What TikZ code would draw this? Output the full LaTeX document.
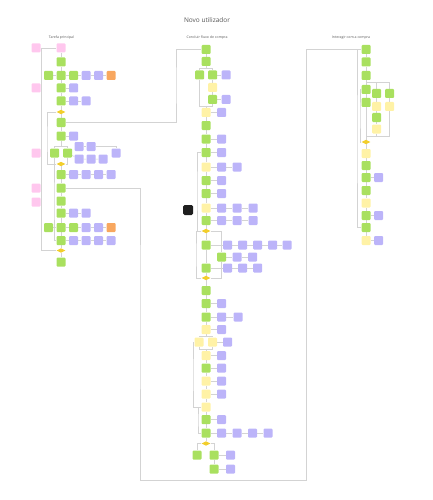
\documentclass[tikz,border=0pt]{standalone}
\usepackage{fontspec}
\setmainfont{Open Sans}
\usetikzlibrary{shapes.geometric,backgrounds}
\definecolor{cg}{HTML}{A9E05F}
\definecolor{cp}{HTML}{BCB4F9}
\definecolor{cy}{HTML}{FFF2A6}
\definecolor{ck}{HTML}{FFC7EE}
\definecolor{co}{HTML}{F8A75F}
\definecolor{cd}{HTML}{F2CE2C}
\definecolor{cl}{HTML}{D3D3D3}
\definecolor{tx}{HTML}{555555}
\begin{document}
\begin{tikzpicture}[x=1pt,y=-1pt,
  sq/.style={minimum size=9pt,inner sep=0pt,rounded corners=1pt},
  gr/.style={sq,fill=cg},
  pu/.style={sq,fill=cp},
  ye/.style={sq,fill=cy},
  pk/.style={sq,fill=ck},
  og/.style={sq,fill=co},
  dia/.style={diamond,fill=cd,inner sep=0pt,minimum width=9pt,minimum height=4.5pt},
  blk/.style={minimum size=10pt,inner sep=0pt,rounded corners=1.5pt,fill=black!88},
  lab/.style={font=\fontsize{3.5}{4}\selectfont,text=tx,inner sep=0pt},
  ln/.style={draw=cl,line width=0.5pt}]
\useasboundingbox (0,0) rectangle (433,500);

% titles
\node[font=\fontsize{6.5}{7}\selectfont,text=tx,inner sep=0pt] (title) at (207,20) {Novo utilizador};
\node[lab] (l1) at (61.5,38) {Tarefa principal};
\node[lab] (l2) at (207,38) {Concluir fluxo de compra};
\node[lab] (l3) at (351,38) {Interagir com a compra};

% ---------- column 1 ----------
\node[pk] (p1) at (36,48) {};
\node[pk] (p2) at (61,48) {};
\node[pk] (p3) at (36,88) {};
\node[pk] (p4) at (36,153) {};
\node[pk] (p5) at (36,188) {};
\node[pk] (p6) at (36,202) {};
\node[gr] (g1) at (61,62) {};
\node[gr] (g2a) at (48.5,75.5) {};
\node[gr] (g2) at (61,75.5) {};
\node[gr] (g2b) at (73.5,75.5) {};
\node[pu] (u2a) at (86,75.5) {};
\node[pu] (u2b) at (98.5,75.5) {};
\node[og] (o2) at (111,75.5) {};
\node[gr] (g3) at (61,88) {};
\node[pu] (u3) at (73.5,88) {};
\node[gr] (g4) at (61,101) {};
\node[pu] (u4a) at (73.5,101) {};
\node[pu] (u4b) at (86,101) {};
\node[dia] (d1) at (61,112) {};
\node[gr] (g5) at (61,122.5) {};
\node[gr] (g6) at (61,136) {};
\node[pu] (u6) at (73.5,136) {};
\node[pu] (u7a) at (79,146.5) {};
\node[pu] (u7b) at (91,146.5) {};
\node[gr] (g7a) at (54.5,153) {};
\node[gr] (g7b) at (67.5,153) {};
\node[pu] (u7c) at (116,153) {};
\node[pu] (u8a) at (79,159) {};
\node[pu] (u8b) at (91,159) {};
\node[pu] (u8c) at (103,159) {};
\node[dia] (d2) at (61,164) {};
\node[gr] (g9) at (61,174.5) {};
\node[pu] (u9a) at (73.5,174.5) {};
\node[pu] (u9b) at (86,174.5) {};
\node[pu] (u9c) at (98.5,174.5) {};
\node[pu] (u9d) at (111,174.5) {};
\node[gr] (g10) at (61,188) {};
\node[gr] (g11) at (61,201) {};
\node[gr] (g12) at (61,213) {};
\node[pu] (u12a) at (73.5,213) {};
\node[pu] (u12b) at (86,213) {};
\node[gr] (g13a) at (48.5,227.5) {};
\node[gr] (g13) at (61,227.5) {};
\node[gr] (g13b) at (73.5,227.5) {};
\node[pu] (u13a) at (86,227.5) {};
\node[pu] (u13b) at (98.5,227.5) {};
\node[og] (o13) at (111,227.5) {};
\node[gr] (g14) at (61,240.5) {};
\node[pu] (u14a) at (73.5,240.5) {};
\node[pu] (u14b) at (86,240.5) {};
\node[pu] (u14c) at (98.5,240.5) {};
\node[pu] (u14d) at (111,240.5) {};
\node[dia] (d3) at (61,250.5) {};
\node[gr] (g15) at (61,262) {};

% ---------- column 2 ----------
\node[gr] (b1) at (206,49.5) {};
\node[gr] (b2) at (206,61.5) {};
\node[gr] (b3a) at (199.5,75) {};
\node[gr] (b3b) at (212.5,75) {};
\node[pu] (v3) at (226,75) {};
\node[ye] (b4) at (212.5,87.5) {};
\node[gr] (b5) at (212.5,99.5) {};
\node[pu] (v5) at (226,99.5) {};
\node[ye] (b6) at (206,112.5) {};
\node[pu] (v6) at (221.5,112.5) {};
\node[gr] (b7) at (206,125.5) {};
\node[gr] (b8) at (206,139) {};
\node[pu] (v8) at (221.5,139) {};
\node[gr] (b9) at (206,152.5) {};
\node[pu] (v9) at (221.5,152.5) {};
\node[ye] (b10) at (206,167) {};
\node[pu] (v10a) at (221.5,167) {};
\node[pu] (v10b) at (237,167) {};
\node[gr] (b11) at (206,180.5) {};
\node[pu] (v11) at (221.5,180.5) {};
\node[gr] (b12) at (206,193.5) {};
\node[pu] (v12) at (221.5,193.5) {};
\node[ye] (b13) at (206,208) {};
\node[pu] (v13a) at (221.5,208) {};
\node[pu] (v13b) at (237,208) {};
\node[pu] (v13c) at (253,208) {};
\node[gr] (b14) at (206,220.5) {};
\node[pu] (v14a) at (221.5,220.5) {};
\node[pu] (v14b) at (237,220.5) {};
\node[pu] (v14c) at (253,220.5) {};
\node[blk] (K) at (188,210) {};
\node[dia] (e1) at (206,231) {};
\node[gr] (b15) at (206,245) {};
\node[pu] (v15a) at (227.5,245) {};
\node[pu] (v15b) at (242.5,245) {};
\node[pu] (v15c) at (257.5,245) {};
\node[pu] (v15d) at (272.5,245) {};
\node[pu] (v15e) at (287,245) {};
\node[gr] (b16) at (221.5,257) {};
\node[pu] (v16a) at (237,257) {};
\node[pu] (v16b) at (252.5,257) {};
\node[gr] (b17) at (206,268) {};
\node[pu] (v17a) at (227.5,268) {};
\node[pu] (v17b) at (242.5,268) {};
\node[pu] (v17c) at (257.5,268) {};
\node[dia] (e2) at (206,278) {};
\node[gr] (b18) at (206,290.5) {};
\node[gr] (b19) at (206,303.5) {};
\node[pu] (v19) at (221.5,303.5) {};
\node[gr] (b20) at (206,317) {};
\node[pu] (v20a) at (221.5,317) {};
\node[pu] (v20b) at (238,317) {};
\node[ye] (b21) at (206,329.5) {};
\node[pu] (v21) at (221.5,329.5) {};
\node[ye] (b22a) at (199,342) {};
\node[ye] (b22b) at (212.5,342) {};
\node[pu] (v22) at (227.5,342) {};
\node[ye] (b23) at (206,355.5) {};
\node[pu] (v23) at (221.5,355.5) {};
\node[gr] (b24) at (206,368) {};
\node[pu] (v24) at (221.5,368) {};
\node[ye] (b25) at (206,381) {};
\node[pu] (v25) at (221.5,381) {};
\node[ye] (b26) at (206,394) {};
\node[pu] (v26) at (221.5,394) {};
\node[ye] (b27) at (206,407) {};
\node[gr] (b28) at (206,419.5) {};
\node[pu] (v28) at (221.5,419.5) {};
\node[gr] (b29) at (206,433) {};
\node[pu] (v29a) at (221.5,433) {};
\node[pu] (v29b) at (237,433) {};
\node[pu] (v29c) at (252.5,433) {};
\node[pu] (v29d) at (268,433) {};
\node[dia] (e3) at (206,443.5) {};
\node[gr] (b30a) at (197,455) {};
\node[gr] (b30b) at (214,455) {};
\node[pu] (v30) at (230.5,455) {};
\node[gr] (b31) at (214,469) {};
\node[pu] (v31) at (230.5,469) {};

% ---------- column 3 ----------
\node[gr] (f1) at (366,49.5) {};
\node[gr] (f2) at (366,62) {};
\node[gr] (f3) at (366,75.5) {};
\node[gr] (f4) at (366,89.5) {};
\node[gr] (f4b) at (376.5,93.5) {};
\node[gr] (f4c) at (389.5,93.5) {};
\node[gr] (f5) at (366,102.5) {};
\node[ye] (f5b) at (376.5,106.5) {};
\node[ye] (f5c) at (389.5,106.5) {};
\node[gr] (f6b) at (376.5,117.5) {};
\node[ye] (f7b) at (376.5,129) {};
\node[dia] (h1) at (366,142) {};
\node[ye] (f8) at (366,153.5) {};
\node[gr] (f9) at (366,165.5) {};
\node[gr] (f10) at (366,177.5) {};
\node[pu] (w10) at (378.5,177.5) {};
\node[gr] (f11) at (366,190.5) {};
\node[ye] (f12) at (366,203) {};
\node[gr] (f13) at (366,215.5) {};
\node[pu] (w13) at (378.5,215.5) {};
\node[gr] (f14) at (366,227.5) {};
\node[ye] (f15) at (366,240.5) {};
\node[pu] (w15) at (378.5,240.5) {};

% ---------- connectors ----------
\coordinate (k1) at (61,146);
\coordinate (k2) at (41,48);
\coordinate (k3) at (47,140);
\coordinate (k4) at (54,200);
\coordinate (k5) at (176,85);
\coordinate (k6) at (140,300);
\coordinate (k7) at (306,480);
\coordinate (j0) at (206,68.5);
\coordinate (j1) at (206,106);
\coordinate (k8) at (197,190);
\coordinate (k9) at (196,255);
\coordinate (j2) at (206,336);
\coordinate (j3) at (206,349);
\coordinate (k11) at (193,375);
\coordinate (k12) at (198,420);
\coordinate (k13) at (366,82);
\coordinate (k14) at (366,136);
\coordinate (k15) at (357,140);
\coordinate (k16) at (360,115);
\begin{pgfonlayer}{background}
% column 1
\draw[ln] (p1) -- (p2) -- (g1) -- (g2) -- (g3) -- (g4) -- (d1) -- (g5) -- (g6) -- (k1);
\draw[ln] (g2a) -- (g2) -- (g2b) -- (u2a) -- (u2b) -- (o2);
\draw[ln] (g3) -- (u3);
\draw[ln] (g4) -- (u4a) -- (u4b);
\draw[ln] (g6) -- (u6);
\draw[ln] (k1) -| (g7a);
\draw[ln] (k1) -| (g7b);
\draw[ln] (g7a) |- (d2);
\draw[ln] (g7b) |- (d2);
\draw[ln] (u7a) -- (u7b) -| (u7c);
\draw[ln] (g7b) -- (u8a) -- (u8b) -- (u8c);
\draw[ln] (d2) -- (g9) -- (g10) -- (g11) -- (g12) -- (g13) -- (g14) -- (d3) -- (g15);
\draw[ln] (g9) -- (u9a) -- (u9b) -- (u9c) -- (u9d);
\draw[ln] (g12) -- (u12a) -- (u12b);
\draw[ln] (g13a) -- (g13) -- (g13b) -- (u13a) -- (u13b) -- (o13);
\draw[ln] (g14) -- (u14a) -- (u14b) -- (u14c) -- (u14d);
\draw[ln] (k2) |- (d3);
\draw[ln] (d1) -| (k3) |- (d2);
\draw[ln] (d2) -| (k4) |- (g14);
\draw[ln] (g5) -| (k5) |- (b1);
\draw[ln] (g10) -| (k6) |- (k7) |- (f1);
% column 2
\draw[ln] (b1) -- (b2) -- (j0);
\draw[ln] (j0) -| (b3a);
\draw[ln] (j0) -| (b3b);
\draw[ln] (b3b) -- (b4) -- (b5);
\draw[ln] (b3b) -- (v3);
\draw[ln] (b5) -- (v5);
\draw[ln] (b3a) |- (j1);
\draw[ln] (b5) |- (j1);
\draw[ln] (j1) -- (b6) -- (b7) -- (b8) -- (b9) -- (b10) -- (b11) -- (b12) -- (b13) -- (b14) -- (e1);
\draw[ln] (b6) -- (v6);
\draw[ln] (b8) -- (v8);
\draw[ln] (b9) -- (v9);
\draw[ln] (b10) -- (v10a) -- (v10b);
\draw[ln] (b11) -- (v11);
\draw[ln] (b12) -- (v12);
\draw[ln] (b13) -- (v13a) -- (v13b) -- (v13c);
\draw[ln] (b14) -- (v14a) -- (v14b) -- (v14c);
\draw[ln] (e1) -| (k8) |- (b9);
\draw[ln] (e1) -- (b15) -- (b17) -- (e2);
\draw[ln] (e1) -| (k9) |- (e2);
\draw[ln] (e1) -| (b16);
\draw[ln] (b16) |- (e2);
\draw[ln] (b15) -- (v15a) -- (v15b) -- (v15c) -- (v15d) -- (v15e);
\draw[ln] (b16) -- (v16a) -- (v16b);
\draw[ln] (b17) -- (v17a) -- (v17b) -- (v17c);
\draw[ln] (e2) -- (b18) -- (b19) -- (b20) -- (b21) -- (j2);
\draw[ln] (b19) -- (v19);
\draw[ln] (b20) -- (v20a) -- (v20b);
\draw[ln] (b21) -- (v21);
\draw[ln] (j2) -| (b22a);
\draw[ln] (j2) -| (b22b);
\draw[ln] (b22b) -- (v22);
\draw[ln] (b22a) |- (j3);
\draw[ln] (b22b) |- (j3);
\draw[ln] (j3) -- (b23) -- (b24) -- (b25) -- (b26) -- (b27) -- (b28) -- (b29) -- (e3);
\draw[ln] (b23) -- (v23);
\draw[ln] (b24) -- (v24);
\draw[ln] (b25) -- (v25);
\draw[ln] (b26) -- (v26);
\draw[ln] (b28) -- (v28);
\draw[ln] (b29) -- (v29a) -- (v29b) -- (v29c) -- (v29d);
\draw[ln] (b22a) -| (k11) |- (b27);
\draw[ln] (b27) -| (k12) |- (b29);
\draw[ln] (e3) -| (b30a);
\draw[ln] (e3) -| (b30b);
\draw[ln] (b30b) -- (b31);
\draw[ln] (b30b) -- (v30);
\draw[ln] (b31) -- (v31);
% column 3
\draw[ln] (f1) -- (f2) -- (f3) -- (f4) -- (f5) -- (h1) -- (f8) -- (f9) -- (f10) -- (f11) -- (f12) -- (f13) -- (f14) -- (f15);
\draw[ln] (k13) -| (f4b);
\draw[ln] (k13) -| (f4c);
\draw[ln] (f4b) -- (f5b) -- (f6b) -- (f7b);
\draw[ln] (f4c) -- (f5c);
\draw[ln] (f7b) |- (k14);
\draw[ln] (f5c) |- (k14);
\draw[ln] (f14) -| (k15) |- (f1);
\draw[ln] (f4) -| (k16) |- (h1);
\draw[ln] (f10) -- (w10);
\draw[ln] (f13) -- (w13);
\draw[ln] (f15) -- (w15);
\end{pgfonlayer}
\end{tikzpicture}
\end{document}
